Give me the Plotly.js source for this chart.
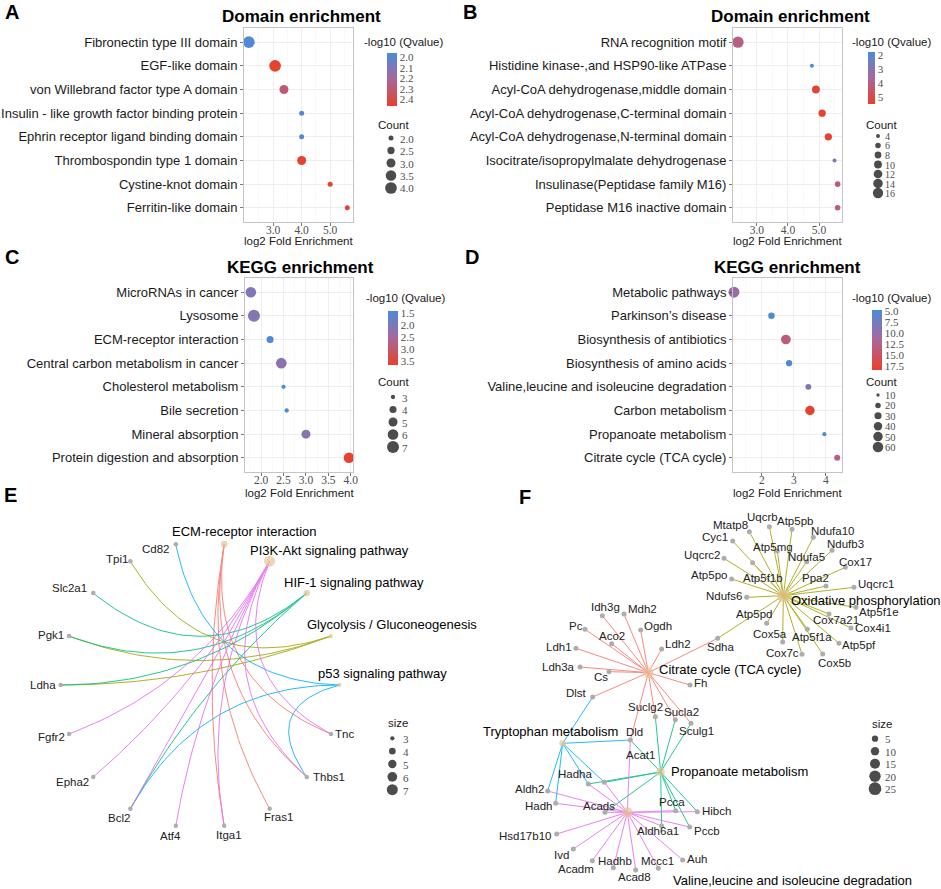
<!DOCTYPE html>
<html><head><meta charset="utf-8">
<script src="https://cdn.plot.ly/plotly-3.0.1.min.js"></script>
<style>body{margin:0;background:#fff}#chart{width:941px;height:889px}</style>
</head><body><div id="chart"></div>
<script>
// ---------------- DATA ----------------
// Panel A: Domain enrichment
const aTerms = ['Fibronectin type III domain','EGF-like domain','von Willebrand factor type A domain','Insulin - like growth factor binding protein','Ephrin receptor ligand binding domain','Thrombospondin type 1 domain','Cystine-knot domain','Ferritin-like domain'];
const aFold = [2.15, 3.07, 3.38, 4.0, 4.0, 4.0, 5.0, 5.6];
const aQ = [1.98, 2.45, 2.3, 1.98, 1.98, 2.45, 2.45, 2.45];
const aCount = [4, 4, 3, 2, 2, 3, 2, 2];
const aQTicks = [2.0, 2.1, 2.2, 2.3, 2.4];
const aCountBreaks = [2.0, 2.5, 3.0, 3.5, 4.0];
const aXTicks = [3, 4, 5];

// Panel B: Domain enrichment
const bTerms = ['RNA recognition motif','Histidine kinase-,and HSP90-like ATPase','Acyl-CoA dehydrogenase,middle domain','Acyl-CoA dehydrogenase,C-terminal domain','Acyl-CoA dehydrogenase,N-terminal domain','Isocitrate/isopropylmalate dehydrogenase','Insulinase(Peptidase family M16)','Peptidase M16 inactive domain'];
const bFold = [2.39, 4.77, 4.9, 5.1, 5.3, 5.5, 5.6, 5.6];
const bQ = [4.0, 1.8, 5.3, 5.4, 5.4, 2.9, 4.2, 4.2];
const bCount = [19, 4, 10, 9, 9, 4, 6, 6];
const bQTicks = [2, 3, 4, 5];
const bCountBreaks = [4, 6, 8, 10, 12, 14, 16];
const bXTicks = [3, 4, 5];

// Panel C: KEGG enrichment
const cTerms = ['MicroRNAs in cancer','Lysosome','ECM-receptor interaction','Central carbon metabolism in cancer','Cholesterol metabolism','Bile secretion','Mineral absorption','Protein digestion and absorption'];
const cFold = [1.77, 1.84, 2.2, 2.45, 2.5, 2.57, 3.0, 3.96];
const cQ = [2.05, 2.1, 1.45, 2.2, 1.45, 1.45, 2.2, 3.65];
const cCount = [6, 7, 4, 6, 3, 3, 5, 6];
const cQTicks = [1.5, 2.0, 2.5, 3.0, 3.5];
const cCountBreaks = [3, 4, 5, 6, 7];
const cXTicks = [2.0, 2.5, 3.0, 3.5, 4.0];

// Panel D: KEGG enrichment
const dTerms = ['Metabolic pathways','Parkinson\u2019s disease','Biosynthesis of antibiotics','Biosynthesis of amino acids','Valine,leucine and isoleucine degradation','Carbon metabolism','Propanoate metabolism','Citrate cycle (TCA cycle)'];
const dFold = [1.13, 2.3, 2.75, 2.85, 3.45, 3.5, 3.95, 4.35];
const dQ = [10.5, 5.0, 13.5, 5.3, 8.5, 18.0, 5.6, 12.8];
const dCount = [65, 26, 52, 24, 22, 50, 13, 23];
const dQTicks = [5.0, 7.5, 10.0, 12.5, 15.0, 17.5];
const dCountBreaks = [10, 20, 30, 40, 50, 60];
const dXTicks = [2, 3, 4];

// Panel E: gene-concept network (circular layout order)
const eNodes = ['p53 signaling pathway','Glycolysis / Gluconeogenesis','HIF-1 signaling pathway','PI3K-Akt signaling pathway','ECM-receptor interaction','Cd82','Tpi1','Slc2a1','Pgk1','Ldha','Fgfr2','Epha2','Bcl2','Atf4','Itga1','Fras1','Thbs1','Tnc'];
const eCategories = ['ECM-receptor interaction','Glycolysis / Gluconeogenesis','HIF-1 signaling pathway','p53 signaling pathway','PI3K-Akt signaling pathway'];
const eEcmGenes = ['Itga1','Fras1','Tnc','Thbs1'];
const eGlycoGenes = ['Tpi1','Pgk1','Ldha'];
const eHifGenes = ['Slc2a1','Pgk1','Ldha','Bcl2'];
const eP53Genes = ['Cd82','Bcl2','Thbs1'];
const ePi3kGenes = ['Fgfr2','Epha2','Bcl2','Atf4','Itga1','Tnc','Thbs1'];
const eSizeBreaks = [3, 4, 5, 6, 7];

// Panel F: gene-concept network (node layout coordinates)
const fCategories = ['Citrate cycle (TCA cycle)','Oxidative phosphorylation','Propanoate metabolism','Tryptophan metabolism','Valine,leucine and isoleucine degradation'];
const fNames = ['Oxidative phosphorylation','Citrate cycle (TCA cycle)','Tryptophan metabolism','Propanoate metabolism','Valine,leucine and isoleucine degradation',
 'Mtatp8','Uqcrb','Atp5pb','Ndufa10','Cyc1','Atp5mg','Ndufb3','Uqcrc2','Ndufa5','Atp5f1b','Cox17','Atp5po','Ppa2','Uqcrc1','Ndufs6','Atp5f1e','Atp5pd','Cox7a21','Cox4i1','Cox5a','Atp5f1a','Atp5pf','Cox7c','Cox5b','Sdha',
 'Idh3g','Mdh2','Pc','Ogdh','Aco2','Ldh1','Ldh2','Ldh3a','Cs','Fh','Dlst','Suclg2','Sucla2','Sculg1','Dld',
 'Hadha','Acat1','Aldh2','Hadh','Acads','Pcca','Hibch','Aldh6a1','Pccb','Hsd17b10','Ivd','Acadm','Hadhb','Acad8','Mccc1','Auh'];
const fX = [940,535,278,572,472, 838,898,966,1030,788,922,1086,762,1010,848,1126,785,1068,1152,830,1158,890,1077,1143,938,1012,1107,996,1058,743, 397,462,345,512,425,318,575,330,417,660,368,556,616,663,481, 355,403,233,257,405,617,682,575,659,260,310,367,430,497,565,638];
const fY = [347,578,790,876,997, 155,140,148,172,183,213,211,235,245,248,262,297,318,322,352,382,430,402,444,486,448,490,523,522,475, 407,402,448,450,491,505,507,561,575,615,651,710,719,730,780, 912,907,933,970,997,992,995,1038,1041,1062,1107,1142,1163,1170,1165,1140];
const fTcaGenes = ['Idh3g','Mdh2','Pc','Ogdh','Aco2','Ldh1','Ldh2','Ldh3a','Cs','Fh','Dlst','Suclg2','Sucla2','Sculg1','Dld','Sdha'];
const fOxphosGenes = ['Mtatp8','Uqcrb','Atp5pb','Ndufa10','Cyc1','Atp5mg','Ndufb3','Uqcrc2','Ndufa5','Atp5f1b','Cox17','Atp5po','Ppa2','Uqcrc1','Ndufs6','Atp5f1e','Atp5pd','Cox7a21','Cox4i1','Cox5a','Atp5f1a','Atp5pf','Cox7c','Cox5b','Sdha'];
const fPropGenes = ['Suclg2','Sucla2','Sculg1','Dld','Acat1','Hadha','Acads','Pcca','Pccb','Hibch','Aldh6a1'];
const fTrpGenes = ['Dlst','Dld','Aldh2','Hadh','Hadha','Acat1'];
const fValGenes = ['Dld','Aldh2','Hadh','Hadha','Acat1','Acads','Pcca','Pccb','Hibch','Aldh6a1','Hsd17b10','Ivd','Acadm','Hadhb','Acad8','Mccc1','Auh'];
const fSizeBreaks = [5, 10, 15, 20, 25];

// ---------------- STYLE / LAYOUT ----------------
const W = 941, H = 889;
const PX = x => x / W, PY = y => 1 - y / H;
const SANS = '"Liberation Sans", Arial, sans-serif';
const SERIF = '"Liberation Serif", "Times New Roman", serif';
const CSCALE = [[0, '#E8412C'], [0.5, '#A9679A'], [1, '#4A8BDB']];
const HUE = ['#F8766D', '#A3A500', '#00BF7D', '#00B0F6', '#E76BF3'];
const CAT_COLOR = '#E5C494', GENE_COLOR = '#ADADAD';

function sz(v, s) {
  const t = (v - s.v[0]) / (s.v[1] - s.v[0]);
  return Math.sqrt(Math.max(1, s.d[0] * s.d[0] + t * (s.d[1] * s.d[1] - s.d[0] * s.d[0])));
}

const panels = [
  {terms: aTerms, fold: aFold, q: aQ, count: aCount, qTicks: aQTicks, qFmt: 1, breaks: aCountBreaks, bFmt: 1, xTicks: aXTicks, xFmt: 1,
   box: [244, 353, 28, 222], xr: [1.98, 5.8], minor: [2.5, 3.5, 4.5, 5.5], qr: [1.96, 2.46],
   cb: {x: 387, y: 53, len: 53, th: 10}, size: {v: [2, 4], d: [5, 11.7]},
   leg: {x: 391, y: 138, step: 12.5, lx: 398, tx: 393, ty: 125, fs: 11}, cbt: [403, 42], title: 'Domain enrichment', tpos: [301, 17], xt: 241, letter: ['A', 12, 12]},
  {terms: bTerms, fold: bFold, q: bQ, count: bCount, qTicks: bQTicks, qFmt: 0, breaks: bCountBreaks, bFmt: 0, xTicks: bXTicks, xFmt: 1,
   box: [733, 842, 28, 222], xr: [2.23, 5.74], minor: [2.5, 3.5, 4.5, 5.5], qr: [1.8, 5.5],
   cb: {x: 868, y: 52, len: 52, th: 7}, size: {v: [4, 16], d: [4, 10.3]},
   leg: {x: 878, y: 136, step: 9.5, lx: 883, tx: 881, ty: 125, fs: 10}, cbt: [891, 42], title: 'Domain enrichment', tpos: [790, 17], xt: 241, letter: ['B', 470, 12]},
  {terms: cTerms, fold: cFold, q: cQ, count: cCount, qTicks: cQTicks, qFmt: 1, breaks: cCountBreaks, bFmt: 0, xTicks: cXTicks, xFmt: 1,
   box: [245, 353, 278, 472], xr: [1.64, 4.05], minor: [1.75, 2.25, 2.75, 3.25, 3.75], qr: [1.41, 3.68],
   cb: {x: 388, y: 311, len: 54, th: 10}, size: {v: [3, 7], d: [4.3, 12]},
   leg: {x: 393, y: 397, step: 12.5, lx: 400, tx: 393, ty: 382, fs: 11}, cbt: [405, 298], title: 'KEGG enrichment', tpos: [300, 267], xt: 493, letter: ['C', 12, 257]},
  {terms: dTerms, fold: dFold, q: dQ, count: dCount, qTicks: dQTicks, qFmt: 1, breaks: dCountBreaks, bFmt: 0, xTicks: dXTicks, xFmt: 0,
   box: [733, 842, 278, 472], xr: [1.1, 4.5], minor: [1.5, 2.5, 3.5, 4.5], qr: [4.77, 18.4],
   cb: {x: 872, y: 310, len: 60, th: 10}, size: {v: [10, 60], d: [3.3, 10.5]},
   leg: {x: 878, y: 395, step: 10.4, lx: 883, tx: 881, ty: 382, fs: 10.5}, cbt: [891, 298], title: 'KEGG enrichment', tpos: [787, 267], xt: 493, letter: ['D', 472, 257]}
];

const traces = [], annotations = [];
const layout = {
  width: W, height: H, margin: {l: 0, r: 0, t: 0, b: 0}, paper_bgcolor: '#fff', plot_bgcolor: 'rgba(0,0,0,0)',
  showlegend: false, font: {family: SANS, color: '#1A1A1A'}, annotations: annotations
};

function ann(text, x, y, o) {
  o = o || {};
  annotations.push({text: text, x: x, y: y, xref: o.xref || 'paper', yref: o.yref || 'paper', showarrow: false,
    xanchor: o.xa || 'center', yanchor: o.ya || 'middle',
    font: {family: o.family || SANS, size: o.size || 12, color: o.color || '#1A1A1A', weight: o.weight || 'normal'}});
}

// overlay pixel axis for legends of dot plots
layout.xaxis7 = {domain: [0, 1], range: [0, W], visible: false, fixedrange: true, anchor: 'y7'};
layout.yaxis7 = {domain: [0, 1], range: [H, 0], visible: false, fixedrange: true, anchor: 'x7'};

panels.forEach((p, i) => {
  const n = i + 1, sfx = n === 1 ? '' : String(n);
  const xa = 'x' + sfx, ya = 'y' + sfx;
  traces.push({
    type: 'scatter', mode: 'markers', x: p.fold, y: p.terms, xaxis: xa, yaxis: ya, cliponaxis: false, hoverinfo: 'skip',
    marker: {
      size: p.count.map(v => sz(v, p.size)), color: p.q.map(v => -v), cmin: -p.qr[1], cmax: -p.qr[0],
      colorscale: CSCALE, line: {width: 0}, opacity: 1, showscale: true,
      colorbar: {x: PX(p.cb.x), xanchor: 'left', y: PY(p.cb.y), yanchor: 'top', len: p.cb.len, lenmode: 'pixels',
        thickness: p.cb.th, thicknessmode: 'pixels', xpad: 0, ypad: 0, outlinewidth: 0,
        tickmode: 'array', tickvals: p.qTicks.map(v => -v), ticktext: p.qTicks.map(v => v.toFixed(p.qFmt)),
        ticks: '', tickfont: {family: SERIF, size: 11, color: '#4D4D4D'}}
    }
  });
  layout['xaxis' + sfx] = {
    domain: [PX(p.box[0]), PX(p.box[1])], range: p.xr, anchor: ya, fixedrange: true,
    tickmode: 'array', tickvals: p.xTicks, ticktext: p.xTicks.map(v => v.toFixed(p.xFmt)),
    ticks: 'outside', ticklen: 3, tickcolor: '#555', tickwidth: 0.8, ticklabelstandoff: -6,
    tickfont: {family: SERIF, size: 11.5, color: '#4D4D4D'},
    showgrid: true, gridcolor: '#EBEBEB', gridwidth: 0.8,
    minor: {tickmode: 'array', tickvals: p.minor, showgrid: true, gridcolor: '#F5F5F5', gridwidth: 0.6, ticks: ''},
    zeroline: false, showline: true, linecolor: '#C4C4C4', linewidth: 1, mirror: true
  };
  layout['yaxis' + sfx] = {
    domain: [PY(p.box[3]), PY(p.box[2])], type: 'category', categoryorder: 'array', categoryarray: p.terms,
    range: [p.terms.length - 0.4, -0.6], anchor: xa, fixedrange: true,
    ticks: 'outside', ticklen: 3, tickcolor: '#555', tickwidth: 0.8,
    tickfont: {family: SANS, size: 13, color: '#1A1A1A'},
    showgrid: true, gridcolor: '#EBEBEB', gridwidth: 0.8,
    zeroline: false, showline: true, linecolor: '#C4C4C4', linewidth: 1, mirror: true
  };
  // count legend
  const ly = p.breaks.map((_, j) => p.leg.y + j * p.leg.step);
  traces.push({type: 'scatter', mode: 'markers', x: p.breaks.map(() => p.leg.x), y: ly, xaxis: 'x7', yaxis: 'y7',
    cliponaxis: false, hoverinfo: 'skip', marker: {size: p.breaks.map(v => sz(v, p.size)), color: '#000', line: {width: 0}}});
  p.breaks.forEach((v, j) => ann(v.toFixed(p.bFmt), PX(p.leg.lx), PY(ly[j] + 0.5), {xa: 'left', family: SERIF, size: p.leg.fs, color: '#4D4D4D'}));
  ann('Count', PX(p.leg.tx), PY(p.leg.ty), {size: 11.5});
  ann('-log10 (Qvalue)', PX(p.cbt[0]), PY(p.cbt[1]), {size: 11.5});
  ann(p.title, PX(p.tpos[0]), PY(p.tpos[1]), {size: 17, weight: 'bold', color: '#000'});
  ann('log2 Fold Enrichment', PX((p.box[0] + p.box[1]) / 2), PY(p.xt), {size: 11.5});
  ann(p.letter[0], PX(p.letter[1]), PY(p.letter[2]), {size: 20, weight: 'bold', color: '#000'});
});

// ---------------- Panel E: circular network ----------------
layout.xaxis5 = {domain: [0, 470 / W], range: [0, 1410], visible: false, fixedrange: true, anchor: 'y5'};
layout.yaxis5 = {domain: [0, 1 - 480 / H], range: [1227, 0], visible: false, fixedrange: true, anchor: 'x5'};
const E_CIRCLE = {cx: 600, cy: 615, rx: 418, ry: 429};
const eSize = {v: [3, 7], d: [4.3, 11]};
const eGeneSets = [eEcmGenes, eGlycoGenes, eHifGenes, eP53Genes, ePi3kGenes];
const eUnit = {};
eNodes.forEach((nm, i) => { const a = i * 2 * Math.PI / eNodes.length; eUnit[nm] = [Math.cos(a), Math.sin(a)]; });
const eXY = u => [E_CIRCLE.cx + E_CIRCLE.rx * u[0], E_CIRCLE.cy - E_CIRCLE.ry * u[1]];
eCategories.forEach((cat, k) => {
  const xs = [], ys = [];
  eGeneSets[k].forEach(g => {
    const a = eUnit[cat], b = eUnit[g];
    const mx = (a[0] + b[0]) / 2, my = (a[1] + b[1]) / 2;
    const f = Math.max(0, Math.hypot(mx, my) - 0.6) * 1.4;
    const c = [mx * f, my * f];
    for (let s = 0; s <= 40; s++) {
      const t = s / 40, u = [(1 - t) * (1 - t) * a[0] + 2 * (1 - t) * t * c[0] + t * t * b[0], (1 - t) * (1 - t) * a[1] + 2 * (1 - t) * t * c[1] + t * t * b[1]];
      const q = eXY(u); xs.push(q[0]); ys.push(q[1]);
    }
    xs.push(null); ys.push(null);
  });
  traces.push({type: 'scatter', mode: 'lines', x: xs, y: ys, xaxis: 'x5', yaxis: 'y5', hoverinfo: 'skip',
    line: {color: HUE[k], width: 1}, opacity: 0.85});
});
const eGeneNodes = eNodes.filter(n => eCategories.indexOf(n) < 0);
traces.push({type: 'scatter', mode: 'markers', x: eGeneNodes.map(n => eXY(eUnit[n])[0]), y: eGeneNodes.map(n => eXY(eUnit[n])[1]),
  xaxis: 'x5', yaxis: 'y5', hoverinfo: 'skip', cliponaxis: false, marker: {size: 4.5, color: GENE_COLOR, line: {width: 0}}});
traces.push({type: 'scatter', mode: 'markers', x: eCategories.map(n => eXY(eUnit[n])[0]), y: eCategories.map(n => eXY(eUnit[n])[1]),
  xaxis: 'x5', yaxis: 'y5', hoverinfo: 'skip', cliponaxis: false,
  marker: {size: eGeneSets.map(s => sz(s.length, eSize)), color: CAT_COLOR, line: {width: 0}}});
const eLabelOffsets = {
  'Cd82': [-59, 13], 'Tpi1': [-41, -5], 'Slc2a1': [-72, -16], 'Pgk1': [-54, -3], 'Ldha': [-54, 0], 'Fgfr2': [-52, 10],
  'Epha2': [-62, 16], 'Bcl2': [-34, 26], 'Atf4': [-17, 30], 'Itga1': [15, 27], 'Fras1': [26, 25], 'Thbs1': [68, 1], 'Tnc': [42, 0],
  'ECM-receptor interaction': [60, -37, 'center'], 'PI3K-Akt signaling pathway': [179, -33, 'center'],
  'HIF-1 signaling pathway': [142, -32, 'center'], 'Glycolysis / Gluconeogenesis': [-78, -36, 'left'], 'p53 signaling pathway': [-70, -35, 'left']
};
eNodes.forEach(n => {
  const o = eLabelOffsets[n], q = eXY(eUnit[n]), isCat = eCategories.indexOf(n) >= 0;
  ann(n, q[0] + o[0], q[1] + o[1], {xref: 'x5', yref: 'y5', xa: o[2] || 'center', size: isCat ? 13 : 11.5, color: isCat ? '#000' : '#222'});
});
const eLeg = {x: 1177, y: 775, step: 38.5, lx: 1203, tx: 1195, ty: 730};
const eLy = eSizeBreaks.map((_, j) => eLeg.y + j * eLeg.step);
traces.push({type: 'scatter', mode: 'markers', x: eSizeBreaks.map(() => eLeg.x), y: eLy, xaxis: 'x5', yaxis: 'y5', hoverinfo: 'skip',
  cliponaxis: false, marker: {size: eSizeBreaks.map(v => sz(v, eSize)), color: '#000', line: {width: 0}}});
eSizeBreaks.forEach((v, j) => ann(String(v), eLeg.lx, eLy[j] + 3, {xref: 'x5', yref: 'y5', xa: 'left', family: SERIF, size: 11, color: '#4D4D4D'}));
ann('size', eLeg.tx, eLeg.ty, {xref: 'x5', yref: 'y5', size: 11.5});
ann('E', PX(10), PY(495), {size: 20, weight: 'bold', color: '#000'});

// ---------------- Panel F: network ----------------
layout.xaxis6 = {domain: [470 / W, 1], range: [0, 1413], visible: false, fixedrange: true, anchor: 'y6'};
layout.yaxis6 = {domain: [0, 1 - 480 / H], range: [1227, 0], visible: false, fixedrange: true, anchor: 'x6'};
const fSize = {v: [5, 25], d: [6.3, 12.7]};
const fIdx = {}; fNames.forEach((n, i) => fIdx[n] = i);
const fGeneSets = [fTcaGenes, fOxphosGenes, fPropGenes, fTrpGenes, fValGenes];
fCategories.forEach((cat, k) => {
  const xs = [], ys = [], ci = fIdx[cat];
  fGeneSets[k].forEach(g => { const gi = fIdx[g]; xs.push(fX[ci], fX[gi], null); ys.push(fY[ci], fY[gi], null); });
  traces.push({type: 'scatter', mode: 'lines', x: xs, y: ys, xaxis: 'x6', yaxis: 'y6', hoverinfo: 'skip',
    line: {color: HUE[k], width: 1}, opacity: 0.85});
});
const fGeneNames = fNames.filter(n => fCategories.indexOf(n) < 0);
traces.push({type: 'scatter', mode: 'markers', x: fGeneNames.map(n => fX[fIdx[n]]), y: fGeneNames.map(n => fY[fIdx[n]]),
  xaxis: 'x6', yaxis: 'y6', hoverinfo: 'skip', cliponaxis: false, marker: {size: 5, color: GENE_COLOR, line: {width: 0}}});
traces.push({type: 'scatter', mode: 'markers', x: fCategories.map(n => fX[fIdx[n]]), y: fCategories.map(n => fY[fIdx[n]]),
  xaxis: 'x6', yaxis: 'y6', hoverinfo: 'skip', cliponaxis: false,
  marker: {size: fGeneSets.map(s => sz(s.length, fSize)), color: CAT_COLOR, line: {width: 0}}});
const fLabelOffsets = {
  'Mtatp8': [-58, -20], 'Uqcrb': [-20, -28], 'Atp5pb': [9, -25], 'Ndufa10': [58, -19], 'Cyc1': [-53, -11], 'Atp5mg': [-12, -13],
  'Ndufb3': [39, -19], 'Uqcrc2': [-67, -10], 'Ndufa5': [0, -13], 'Atp5f1b': [32, 47], 'Cox17': [29, -17], 'Atp5po': [-68, -12],
  'Ppa2': [-31, -23], 'Uqcrc1': [66, -9], 'Ndufs6': [-68, -3], 'Atp5f1e': [70, 15], 'Atp5pd': [-37, -27], 'Cox7a21': [21, 18],
  'Cox4i1': [67, 1], 'Cox5a': [-38, -24], 'Atp5f1a': [13, 24], 'Atp5pf': [61, 5], 'Cox7c': [-58, -3], 'Cox5b': [35, 26], 'Sdha': [7, 27],
  'Idh3g': [8, -27], 'Mdh2': [56, -16], 'Pc': [-27, -11], 'Ogdh': [51, -13], 'Aco2': [0, -24], 'Ldh1': [-50, -3], 'Ldh2': [50, -15],
  'Ldh3a': [-65, -1], 'Cs': [-24, 17], 'Fh': [30, -5], 'Dlst': [-50, -13], 'Suclg2': [-31, -30], 'Sucla2': [17, -23], 'Sculg1': [17, 22],
  'Dld': [11, -25], 'Hadha': [-40, -30], 'Acat1': [109, -82], 'Aldh2': [-55, -5], 'Hadh': [-50, 7], 'Acads': [-17, -19], 'Pcca': [-10, -27],
  'Hibch': [58, -3], 'Aldh6a1': [-12, 15], 'Pccb': [53, 12], 'Hsd17b10': [-95, 6], 'Ivd': [-37, 18], 'Acadm': [-50, 26], 'Hadhb': [5, -20],
  'Acad8': [-4, 20], 'Mccc1': [-3, -22], 'Auh': [42, -3],
  'Oxidative phosphorylation': [18, 15, 'left'], 'Citrate cycle (TCA cycle)': [25, -10, 'left'], 'Propanoate metabolism': [25, -1, 'left'],
  'Tryptophan metabolism': [-38, -35, 'center'], 'Valine,leucine and isoleucine degradation': [130, 203, 'left']
};
fNames.forEach((n, i) => {
  const o = fLabelOffsets[n], isCat = fCategories.indexOf(n) >= 0;
  ann(n, fX[i] + o[0], fY[i] + o[1], {xref: 'x6', yref: 'y6', xa: o[2] || 'center', size: isCat ? 13 : 11.5, color: isCat ? '#000' : '#222'});
});
const fLeg = {x: 1215, y: 776, step: 37.5, lx: 1240, tx: 1235, ty: 733};
const fLy = fSizeBreaks.map((_, j) => fLeg.y + j * fLeg.step);
traces.push({type: 'scatter', mode: 'markers', x: fSizeBreaks.map(() => fLeg.x), y: fLy, xaxis: 'x6', yaxis: 'y6', hoverinfo: 'skip',
  cliponaxis: false, marker: {size: fSizeBreaks.map(v => sz(v, fSize)), color: '#000', line: {width: 0}}});
fSizeBreaks.forEach((v, j) => ann(String(v), fLeg.lx, fLy[j] + 2, {xref: 'x6', yref: 'y6', xa: 'left', family: SERIF, size: 11, color: '#4D4D4D'}));
ann('size', fLeg.tx, fLeg.ty, {xref: 'x6', yref: 'y6', size: 11.5});
ann('F', PX(525), PY(497), {size: 20, weight: 'bold', color: '#000'});

Plotly.newPlot('chart', traces, layout, {staticPlot: true, displayModeBar: false});
</script>
</body></html>
